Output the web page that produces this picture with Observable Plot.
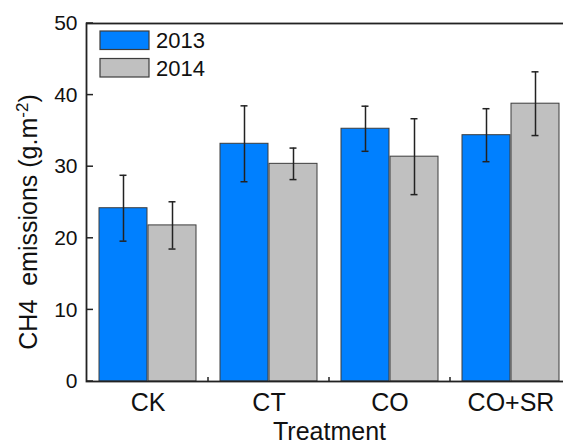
<!DOCTYPE html>
<html>
<head>
<meta charset="utf-8">
<script src="https://cdn.jsdelivr.net/npm/d3@7"></script>
<script src="https://cdn.jsdelivr.net/npm/@observablehq/plot@0.6"></script>
<style>
  html, body { margin: 0; padding: 0; background: #fff; overflow: hidden; }
  #chart { position: relative; width: 563px; height: 445px; font-family: "Liberation Sans", Arial, sans-serif; }
  #chart svg { font-family: "Liberation Sans", Arial, sans-serif; }
</style>
</head>
<body>
<div id="chart"></div>
<script>
// ---- data ----
const treatments = ["CK", "CT", "CO", "CO+SR"];
const years = ["2013", "2014"];
const mean2013 = [24.2, 33.2, 35.3, 34.4];
const mean2014 = [21.8, 30.4, 31.4, 38.8];
const err2013 = [4.6, 5.3, 3.15, 3.7];
const err2014 = [3.3, 2.2, 5.3, 4.45];
const yTicks = [0, 10, 20, 30, 40, 50];

// ---- layout ----
const W = 563, H = 445;
const mL = 86, mT = 23, mB = 64, xRight = 573;
const colors = {"2013": "#0080ff", "2014": "#c0c0c0"};
const edge = "#3c3c3c";

const xOpts = {type: "band", domain: treatments, range: [mL, xRight], paddingInner: 0.195, paddingOuter: 0.0975};
const xs = Plot.scale({x: xOpts});
const bw = xs.bandwidth;

const mk = (means, errs, year) => treatments.map((t, i) => ({
  treatment: t, year, value: means[i], lo: means[i] - errs[i], hi: means[i] + errs[i]
}));
const rows13 = mk(mean2013, err2013, "2013");
const rows14 = mk(mean2014, err2014, "2014");

const capHalf = 4;
const plot = Plot.plot({
  width: W,
  height: H,
  marginLeft: mL,
  marginTop: mT,
  marginBottom: mB,
  marginRight: W - xRight,
  style: {background: "transparent", overflow: "visible"},
  x: {...xOpts, tickSize: 0, tickPadding: 12, label: null},
  y: {domain: [0, 50], ticks: 5, tickSize: 0, tickPadding: 9, label: null},
  marks: [
    Plot.barY(rows13, {x: "treatment", y: "value", fill: colors["2013"], stroke: edge, strokeWidth: 1, insetRight: bw / 2}),
    Plot.barY(rows14, {x: "treatment", y: "value", fill: colors["2014"], stroke: edge, strokeWidth: 1, insetLeft: bw / 2}),
    Plot.ruleX(rows13, {x: "treatment", y1: "lo", y2: "hi", dx: -bw / 4, stroke: "#222", strokeWidth: 1.5}),
    Plot.ruleX(rows14, {x: "treatment", y1: "lo", y2: "hi", dx: bw / 4, stroke: "#222", strokeWidth: 1.5}),
    Plot.tickY(rows13, {x: "treatment", y: "hi", stroke: "#222", strokeWidth: 1.5, insetLeft: bw / 4 - capHalf, insetRight: 3 * bw / 4 - capHalf}),
    Plot.tickY(rows13, {x: "treatment", y: "lo", stroke: "#222", strokeWidth: 1.5, insetLeft: bw / 4 - capHalf, insetRight: 3 * bw / 4 - capHalf}),
    Plot.tickY(rows14, {x: "treatment", y: "hi", stroke: "#222", strokeWidth: 1.5, insetLeft: 3 * bw / 4 - capHalf, insetRight: bw / 4 - capHalf}),
    Plot.tickY(rows14, {x: "treatment", y: "lo", stroke: "#222", strokeWidth: 1.5, insetLeft: 3 * bw / 4 - capHalf, insetRight: bw / 4 - capHalf}),
    Plot.frame({stroke: "#222", strokeWidth: 1.8})
  ]
});
document.getElementById("chart").appendChild(plot);

// ---- axis label sizing (by content, independent of Plot's internal markup) ----
const svg = d3.select(plot.tagName.toLowerCase() === "svg" ? plot : plot.querySelector("svg"));
svg.selectAll("text").each(function () {
  const t = this.textContent.trim();
  if (treatments.includes(t)) {
    this.setAttribute("font-size", "25");
    this.style.fontSize = "25px";
    this.style.fill = "#111";
  } else if (yTicks.map(String).includes(t)) {
    this.setAttribute("font-size", "21");
    this.style.fontSize = "21px";
    this.style.fill = "#111";
  }
});

// ---- decorations drawn with the plot's own scales ----
const ys = plot.scale("y");
const xsc = plot.scale("x");
const y0 = ys.apply(0);
const g = svg.append("g").attr("stroke", "#222").attr("stroke-width", 1.5);
// inward y ticks
yTicks.forEach(v => {
  g.append("line").attr("x1", mL).attr("x2", mL + 7).attr("y1", ys.apply(v)).attr("y2", ys.apply(v));
});
// small x ticks between groups
for (let i = 0; i < treatments.length - 1; i++) {
  const xm = (xsc.apply(treatments[i]) + xsc.bandwidth + xsc.apply(treatments[i + 1])) / 2;
  g.append("line").attr("x1", xm).attr("x2", xm).attr("y1", y0).attr("y2", y0 - 4);
}

// axis titles
const yl = svg.append("text")
  .attr("transform", `translate(37,222) rotate(-90)`)
  .attr("text-anchor", "middle")
  .style("font-size", "25px")
  .attr("fill", "#111")
  .style("white-space", "pre");
yl.append("tspan").text("CH4  emissions (g.m");
yl.append("tspan").style("font-size", "17px").attr("baseline-shift", "super").text("-2");
yl.append("tspan").text(")");

svg.append("text")
  .attr("x", (mL + xRight) / 2).attr("y", 440)
  .attr("text-anchor", "middle")
  .style("font-size", "25px")
  .attr("fill", "#111")
  .text("Treatment");

// legend (inside plot, top-left)
const lg = svg.append("g").attr("text-anchor", "start");
years.forEach((yr, i) => {
  const top = 31 + i * 27.5;
  lg.append("rect").attr("x", 100).attr("y", top).attr("width", 49).attr("height", 18.5)
    .attr("fill", colors[yr]).attr("stroke", edge).attr("stroke-width", 1.2);
  lg.append("text").attr("x", 156).attr("y", top + 17)
    .attr("text-anchor", "start")
    .style("font-size", "22px").attr("fill", "#111").text(yr);
});
</script>
</body>
</html>
